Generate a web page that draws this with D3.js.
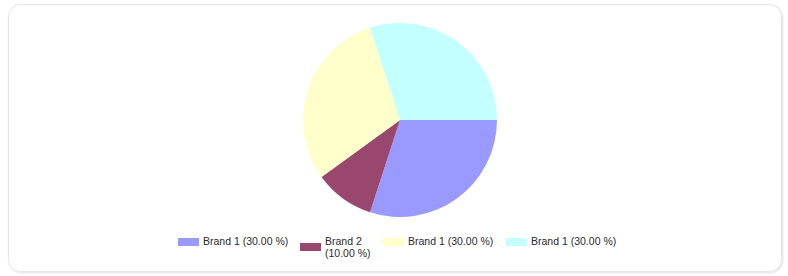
<!DOCTYPE html>
<html>
<head>
<meta charset="utf-8">
<script src="https://cdn.jsdelivr.net/npm/d3@7"></script>
<style>
  body { margin: 0; background: #fff; }
  svg { display: block; }
</style>
</head>
<body>
<svg class="chart" width="788" height="276"></svg>
<script>
// pie data
var labels = ["Brand 1", "Brand 2", "Brand 1", "Brand 1"];
var values = [30, 10, 30, 30];
var colors = ["#9999ff", "#9a476f", "#ffffcc", "#c4ffff"];
// legend entries wrap onto two lines where the item is narrow
var legendLines = [["Brand 1 (30.00 %)"], ["Brand 2", "(10.00 %)"], ["Brand 1 (30.00 %)"], ["Brand 1 (30.00 %)"]];

var svg = d3.select(".chart"),
    width = +svg.attr("width"),
    height = +svg.attr("height");

// panel frame with a soft shadow
var defs = svg.append("defs");
var f = defs.append("filter").attr("id", "shadow").attr("x", "-5%").attr("y", "-5%").attr("width", "110%").attr("height", "115%");
f.append("feDropShadow").attr("dx", 1).attr("dy", 1).attr("stdDeviation", 1).attr("flood-color", "#000").attr("flood-opacity", 0.12);

svg.append("rect")
    .attr("x", 8.5).attr("y", 4.5)
    .attr("width", 773).attr("height", 267)
    .attr("rx", 12).attr("ry", 12)
    .attr("fill", "#fff")
    .attr("stroke", "#e6e6e6")
    .attr("filter", "url(#shadow)");

var cx = 400, cy = 120, r = 97;

var pie = d3.pie().sort(null)
    .startAngle(Math.PI / 2)
    .endAngle(Math.PI / 2 + 2 * Math.PI);
var arc = d3.arc().innerRadius(0).outerRadius(r);

svg.append("g")
    .attr("transform", "translate(" + cx + "," + cy + ")")
    .selectAll("path")
    .data(pie(values))
    .enter().append("path")
    .attr("d", arc)
    .attr("fill", (d, i) => colors[i]);

// legend
var legendX = [178, 300, 383, 506];
var lg = svg.append("g").attr("class", "legend")
    .style("font-family", "'Liberation Sans', Arial, sans-serif")
    .style("font-size", "10.5px")
    .attr("fill", "#2a2a2a");

var items = lg.selectAll("g")
    .data(labels)
    .enter().append("g")
    .attr("transform", (d, i) => "translate(" + legendX[i] + ",0)");

items.append("rect")
    .attr("x", 0)
    .attr("y", (d, i) => legendLines[i].length > 1 ? 243 : 238)
    .attr("width", 21).attr("height", 8)
    .attr("fill", (d, i) => colors[i]);

items.append("text")
    .attr("x", 25)
    .attr("y", 245)
    .selectAll("tspan")
    .data((d, i) => legendLines[i])
    .enter().append("tspan")
    .attr("x", 25)
    .attr("dy", (d, j) => j == 0 ? 0 : 12)
    .text(d => d);
</script>
</body>
</html>
